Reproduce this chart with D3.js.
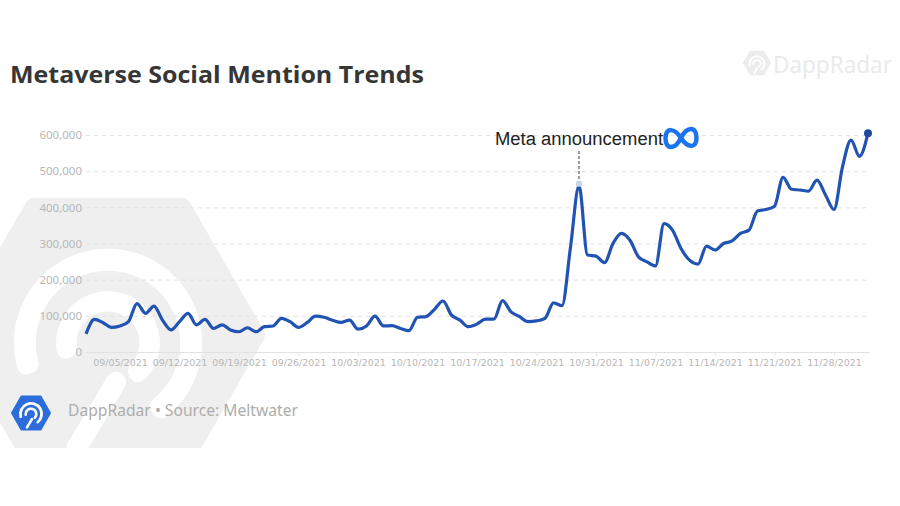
<!DOCTYPE html>
<html>
<head>
<meta charset="utf-8">
<script src="https://cdn.jsdelivr.net/npm/d3@7"></script>
<style>
  body { margin: 0; background: #fff; }
  svg { display: block; }
</style>
</head>
<body>
<div id="chart"></div>
<script>
(function () {

    /* data: one value per day from 09/01/2021 */
    var startDate = "2021-09-01";
    var mentions = [
        50000, 90000, 81000, 68000, 72000, 84000, 134000, 107000, 127000, 88000,
        61000, 84000, 107000, 75000, 90000, 65000, 75000, 61000, 56000, 67000,
        56000, 70000, 72000, 93000, 84000, 68000, 81000, 99000, 96000, 88000,
        82000, 88000, 63000, 72000, 99000, 72000, 73000, 65000, 59000, 96000,
        98000, 118000, 141000, 102000, 88000, 70000, 77000, 91000, 91000, 142000,
        111000, 98000, 84000, 86000, 93000, 136000, 128000, 290000, 460000, 268000,
        265000, 247000, 300000, 328000, 309000, 263000, 249000, 238000, 355000, 337000,
        286000, 254000, 243000, 293000, 282000, 300000, 307000, 328000, 337000, 390000,
        394000, 403000, 483000, 450000, 448000, 445000, 475000, 434000, 394000, 512000,
        586000, 541000, 605000
    ];
    var yTicks = [0, 100000, 200000, 300000, 400000, 500000, 600000];
    var xTickLabels = ["09/05/2021", "09/12/2021", "09/19/2021", "09/26/2021", "10/03/2021",
        "10/10/2021", "10/17/2021", "10/24/2021", "10/31/2021", "11/07/2021",
        "11/14/2021", "11/21/2021", "11/28/2021"];
    var annotationDate = "2021-10-29";
    var annotationText = "Meta announcement";
    var titleText = "Metaverse Social Mention Trends";
    var sourceText = "DappRadar \u2022 Source: Meltwater";
    var brandText = "DappRadar";

    var width = 900, height = 506;
    var parseDay = d3.utcParse("%Y-%m-%d");
    var parseTick = d3.utcParse("%m/%d/%Y");

    var data = mentions.map(function (v, i) {
        return { date: d3.utcDay.offset(parseDay(startDate), i), value: v };
    });

    var x = d3.scaleUtc()
        .domain(d3.extent(data, function (d) { return d.date; }))
        .range([86, 868]);

    var y = d3.scaleLinear()
        .domain([0, 600000])
        .range([352, 135]);

    var svg = d3.select("#chart").append("svg")
        .attr("width", width)
        .attr("height", height);

    /* hexagon + radar rings, used for the watermarks and the footer logo */
    function hexPoints(cx, cy, r) {
        return d3.range(6).map(function (k) {
            var a = Math.PI / 3 * k;
            return [cx + r * Math.cos(a), cy + r * Math.sin(a)];
        });
    }

    function radarLogo(g, cx, cy, r, hexColor, markColor) {
        g.append("polygon")
            .attr("points", hexPoints(cx, cy, r * 0.94).join(" "))
            .attr("fill", hexColor)
            .attr("stroke", hexColor)
            .attr("stroke-width", r * 0.12)
            .attr("stroke-linejoin", "round");
        var ring = d3.arc().cornerRadius(r * 0.06);
        g.append("path")
            .attr("transform", "translate(" + cx + "," + (cy + r * 0.05) + ")")
            .attr("d", ring({ innerRadius: r * 0.46, outerRadius: r * 0.6,
                startAngle: -Math.PI * 0.62, endAngle: Math.PI * 0.82 }))
            .attr("fill", markColor);
        g.append("path")
            .attr("transform", "translate(" + cx + "," + (cy + r * 0.05) + ")")
            .attr("d", ring({ innerRadius: r * 0.2, outerRadius: r * 0.33,
                startAngle: -Math.PI * 0.62, endAngle: Math.PI * 0.82 }))
            .attr("fill", markColor);
        g.append("line")
            .attr("x1", cx + r * 0.05).attr("y1", cy + r * 0.3)
            .attr("x2", cx - r * 0.2).attr("y2", cy + r * 0.72)
            .attr("stroke", markColor)
            .attr("stroke-width", r * 0.13)
            .attr("stroke-linecap", "round");
    }

    svg.append("clipPath").attr("id", "wm-clip")
        .append("rect").attr("x", 0).attr("y", 0).attr("width", width).attr("height", 448);

    radarLogo(svg.append("g").attr("clip-path", "url(#wm-clip)"), 108, 335, 157, "#efefef", "#ffffff");
    radarLogo(svg.append("g"), 757, 63, 14, "#ececec", "#ffffff");

    svg.append("text")
        .attr("x", 773)
        .attr("y", 73)
        .attr("textLength", 119)
        .attr("lengthAdjust", "spacingAndGlyphs")
        .style("font-family", "'Noto Sans', sans-serif")
        .style("font-size", "24px")
        .attr("fill", "#eaeaea")
        .text(brandText);

    /* title */
    svg.append("text")
        .attr("x", 10)
        .attr("y", 83)
        .attr("textLength", 414)
        .attr("lengthAdjust", "spacingAndGlyphs")
        .style("font-family", "'Open Sans', sans-serif")
        .style("font-weight", "bold")
        .style("font-size", "24px")
        .attr("fill", "#363636")
        .text(titleText);

    /* grid + y labels */
    var yAxis = svg.append("g")
        .attr("transform", "translate(86,0)")
        .call(d3.axisLeft(y)
            .tickValues(yTicks)
            .tickFormat(d3.format(","))
            .tickSize(-784)
            .tickPadding(4));
    yAxis.select(".domain").remove();
    yAxis.selectAll(".tick line")
        .attr("stroke", "#e2e2e2")
        .attr("stroke-dasharray", function (d) { return d === 0 ? null : "4,4"; });
    yAxis.selectAll(".tick text")
        .style("font-family", "'Noto Sans', sans-serif")
        .style("font-size", "11.5px")
        .attr("fill", "#b8b8b8");

    /* x axis */
    var xAxis = svg.append("g")
        .attr("transform", "translate(0,352)")
        .call(d3.axisBottom(x)
            .tickValues(xTickLabels.map(parseTick))
            .tickFormat(d3.utcFormat("%m/%d/%Y"))
            .tickSize(4)
            .tickPadding(3));
    xAxis.select(".domain").remove();
    xAxis.selectAll(".tick line").attr("stroke", "#e6e6e6");
    xAxis.selectAll(".tick text")
        .style("font-family", "'DejaVu Sans', sans-serif")
        .style("font-size", "9.5px")
        .attr("fill", "#b8b8b8");

    /* the line */
    var line = d3.line()
        .curve(d3.curveMonotoneX)
        .x(function (d) { return x(d.date); })
        .y(function (d) { return y(d.value); });

    svg.append("path")
        .datum(data)
        .attr("fill", "none")
        .attr("stroke", "#2153b3")
        .attr("stroke-width", 3.2)
        .attr("stroke-linejoin", "round")
        .attr("d", line);

    var last = data[data.length - 1];
    svg.append("circle")
        .attr("cx", x(last.date))
        .attr("cy", y(last.value))
        .attr("r", 4)
        .attr("fill", "#1f4aa0");

    /* annotation */
    var ann = data.filter(function (d) { return +d.date === +parseDay(annotationDate); })[0];
    var ax = x(ann.date), ay = y(ann.value);

    svg.append("line")
        .attr("x1", ax).attr("x2", ax)
        .attr("y1", 151).attr("y2", ay - 3)
        .attr("stroke", "#555")
        .attr("stroke-width", 1.2)
        .attr("stroke-dasharray", "3,2");

    svg.append("circle")
        .attr("cx", ax)
        .attr("cy", ay - 2)
        .attr("r", 3.2)
        .attr("fill", "#c9d7e6");

    svg.append("text")
        .attr("x", ax - 84)
        .attr("y", 145)
        .attr("textLength", 168)
        .attr("lengthAdjust", "spacingAndGlyphs")
        .style("font-family", "'Liberation Sans', Arial, sans-serif")
        .style("font-size", "18px")
        .attr("fill", "#222")
        .text(annotationText);

    // meta infinity logo
    svg.append("path")
        .attr("transform", "translate(" + (ax + 102) + ",138)")
        .attr("d", "M0,0 C6,-12 15.5,-12 15.5,0 C15.5,11 6.5,10 0,0 C-6.5,-10 -15.5,-11 -15.5,0 C-15.5,12 -6,12 0,0")
        .attr("fill", "none")
        .attr("stroke", "#1a73f0")
        .attr("stroke-width", 4.5)
        .attr("stroke-linecap", "round");

    /* footer */
    radarLogo(svg.append("g"), 31, 413, 20, "#2c6cdb", "#ffffff");

    svg.append("text")
        .attr("x", 68)
        .attr("y", 416)
        .attr("textLength", 230)
        .attr("lengthAdjust", "spacingAndGlyphs")
        .style("font-family", "'Noto Sans', sans-serif")
        .style("font-size", "16px")
        .attr("fill", "#adadad")
        .text(sourceText);
})();
</script>
</body>
</html>
